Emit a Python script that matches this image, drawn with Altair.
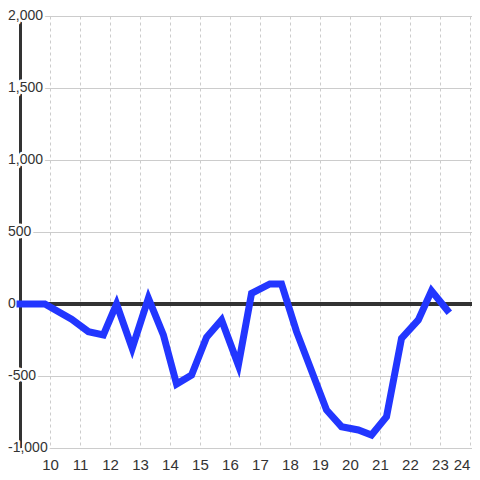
import altair as alt
import pandas as pd

# data
xs = [9.0, 9.83, 10.72, 11.28, 11.78, 12.22, 12.74, 13.28, 13.78, 14.22, 14.72,
      15.22, 15.72, 16.28, 16.72, 17.33, 17.72, 18.22, 19.22, 19.72, 20.28,
      20.72, 21.22, 21.72, 22.28, 22.72, 23.24]
ys = [0, 0, -106, -192, -215, 0, -308, 40, -215, -556, -493, -231, -111, -424,
      74, 139, 139, -192, -736, -852, -875, -910, -782, -238, -111, 92, -42]

y_tick_values = [2000, 1500, 1000, 500, 0, -500, -1000]
y_tick_labels = ["2,000", "1,500", "1,000", "500", "0", "-500", "-1,000"]
y_grid_values = [-1000, -750, -500, -250, 0, 250, 500, 750, 1000, 1250, 1500, 1750, 2000]
x_tick_values = list(range(10, 25))

FONT = "Liberation Sans"

df = pd.DataFrame({"x": xs, "v": ys})
lab = pd.DataFrame({"v": y_tick_values, "label": y_tick_labels})

xscale = alt.Scale(domain=[9, 24.07], nice=False, zero=False)
yscale = alt.Scale(domain=[-1000, 2000], nice=False)

xaxis = alt.Axis(values=x_tick_values, grid=True, gridDash=[3, 3], gridColor="#cccccc",
                 gridWidth=1, ticks=False, domain=False, labelFont=FONT, labelFontSize=15,
                 labelColor="#333333", labelPadding=9, title=None, labelFlush=4)
yaxis = alt.Axis(values=y_grid_values, grid=True, gridColor="#cccccc", gridWidth=1,
                 ticks=False, labels=False, domain=True, domainColor="#333333",
                 domainWidth=3, title=None)

line = alt.Chart(df).mark_line(color="#2236ff", strokeWidth=7, strokeCap="square").encode(
    x=alt.X("x:Q", scale=xscale, axis=xaxis),
    y=alt.Y("v:Q", scale=yscale, axis=yaxis),
)

zero = alt.Chart(df).mark_rule(color="#333333", strokeWidth=3).encode(
    y=alt.datum(0, scale=yscale)
)

def label_layer(halo):
    props = dict(align="left", baseline="middle", font=FONT, fontSize=14)
    if halo:
        props.update(color="white", stroke="white", strokeWidth=5, strokeJoin="round")
    else:
        props.update(color="#333333")
    return alt.Chart(lab).mark_text(**props).encode(
        x=alt.value(-12),
        y=alt.Y("v:Q", scale=yscale),
        text="label:N",
    )

layers = [zero, label_layer(True), label_layer(False), line]

chart = alt.layer(*layers).properties(
    width=452, height=432,
    autosize=alt.AutoSizeParams(type="none"),
    padding={"left": 12, "top": 8, "right": 0, "bottom": 24},
).configure_view(stroke=None).configure(background="white")

chart.save("out.html", embed_options={"renderer": "svg", "actions": False})
